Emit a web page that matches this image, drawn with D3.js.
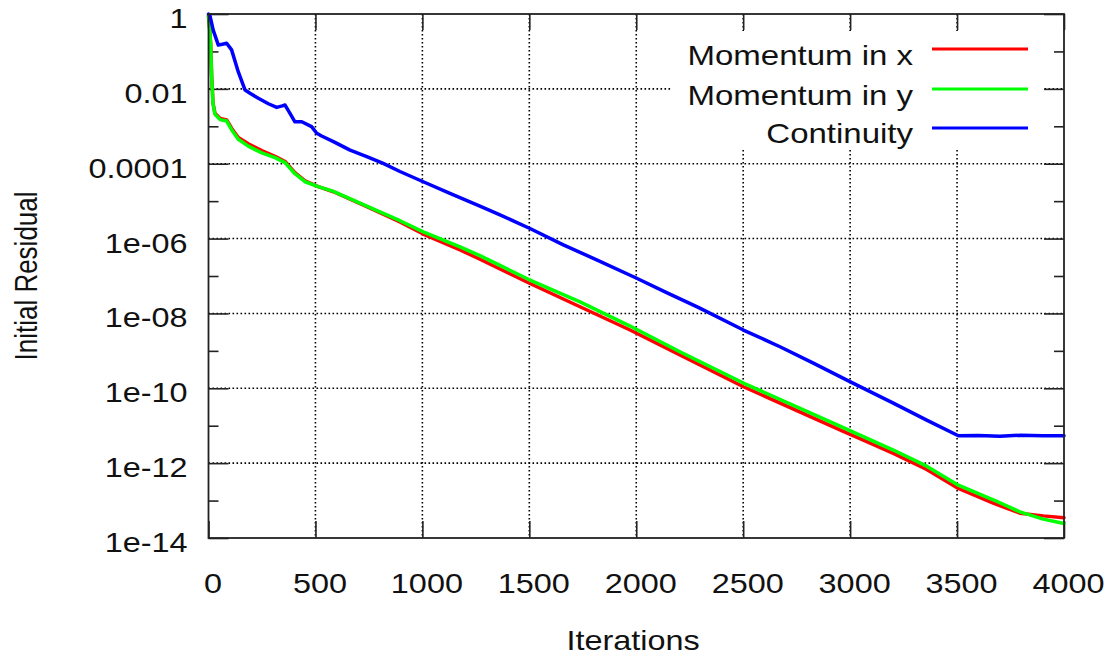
<!DOCTYPE html>
<html>
<head>
<meta charset="utf-8">
<script src="https://cdn.jsdelivr.net/npm/d3@7"></script>
<style>
  html, body { margin: 0; padding: 0; background: #fff; }
  svg { display: block; }
  text { font-family: "Liberation Sans", Arial, Helvetica, sans-serif; fill: #111; }
</style>
</head>
<body>
<svg id="chart" width="1111" height="656"></svg>
<script>
// Solver residual history (iteration, initial residual)
const momentumXIter = [0, 5, 10, 15, 21, 30, 54, 85, 108, 139, 186, 249, 311, 358, 404, 451, 513, 584, 740, 895, 1004, 1176, 1269, 1503, 1737, 1971, 2204, 2501, 2968, 3046, 3202, 3358, 3506, 3669, 3794, 3903, 4000];
const momentumXRes  = [0.9, 0.45, 0.166, 0.021, 4.2e-3, 2.24e-3, 1.62e-3, 1.48e-3, 8.9e-4, 5.0e-4, 3.4e-4, 2.24e-4, 1.58e-4, 1.15e-4, 5.8e-5, 3.5e-5, 2.45e-5, 1.78e-5, 7.1e-6, 2.8e-6, 1.32e-6, 5.0e-7, 2.8e-7, 6.3e-8, 1.51e-8, 3.6e-9, 7.8e-10, 1.10e-10, 7.1e-12, 4.5e-12, 1.82e-12, 6.8e-13, 2.1e-13, 8.5e-14, 4.6e-14, 3.9e-14, 3.5e-14];

const momentumYIter = [0, 5, 10, 15, 21, 30, 54, 85, 108, 139, 186, 249, 311, 358, 404, 451, 513, 584, 740, 895, 1004, 1176, 1269, 1503, 1737, 1971, 2204, 2501, 2968, 3046, 3202, 3358, 3506, 3669, 3794, 3903, 4000];
const momentumYRes  = [0.9, 0.42, 0.15, 0.019, 4.0e-3, 2.1e-3, 1.51e-3, 1.38e-3, 8.1e-4, 4.5e-4, 2.95e-4, 1.95e-4, 1.45e-4, 1.07e-4, 5.4e-5, 3.3e-5, 2.45e-5, 1.82e-5, 7.4e-6, 3.0e-6, 1.51e-6, 6.0e-7, 3.5e-7, 7.8e-8, 2.04e-8, 4.6e-9, 9.5e-10, 1.38e-10, 8.9e-12, 5.6e-12, 2.24e-12, 8.3e-13, 2.57e-13, 1.05e-13, 5.0e-14, 3.2e-14, 2.45e-14];

const continuityIter = [0, 7, 22, 46, 65, 85, 108, 139, 171, 194, 233, 280, 319, 345, 358, 381, 404, 436, 482, 506, 529, 584, 662, 740, 817, 895, 1004, 1129, 1269, 1355, 1503, 1659, 1815, 2002, 2142, 2290, 2501, 2672, 2828, 2999, 3202, 3358, 3506, 3600, 3700, 3800, 3900, 4000];
const continuityRes  = [1.0, 0.89, 0.37, 0.148, 0.155, 0.166, 0.110, 0.0288, 9.3e-3, 7.6e-3, 5.6e-3, 4.0e-3, 3.2e-3, 3.5e-3, 3.7e-3, 2.2e-3, 1.32e-3, 1.32e-3, 9.8e-4, 6.5e-4, 5.5e-4, 3.9e-4, 2.3e-4, 1.55e-4, 1.02e-4, 6.2e-5, 3.3e-5, 1.62e-5, 7.4e-6, 4.5e-6, 1.86e-6, 6.8e-7, 2.7e-7, 8.7e-8, 3.6e-8, 1.45e-8, 3.6e-9, 1.29e-9, 4.7e-10, 1.51e-10, 4.0e-11, 1.41e-11, 5.4e-12, 5.5e-12, 5.2e-12, 5.6e-12, 5.4e-12, 5.4e-12];

const seriesNames  = ["Momentum in x", "Momentum in y", "Continuity"];
const seriesColors = ["#ff0000", "#00ff00", "#0000ff"];

const xTickValues = [0, 500, 1000, 1500, 2000, 2500, 3000, 3500, 4000];
const yMajorValues = [1, 1e-2, 1e-4, 1e-6, 1e-8, 1e-10, 1e-12, 1e-14];
const yMajorLabels = ["1", "0.01", "0.0001", "1e-06", "1e-08", "1e-10", "1e-12", "1e-14"];
const yMinorValues = [1e-1, 1e-3, 1e-5, 1e-7, 1e-9, 1e-11, 1e-13];

const svg = d3.select("#chart");
const L = 208.5, R = 1064, T = 14, B = 538;
const SX = 1.2; // horizontal glyph stretch

const x = d3.scaleLinear().domain([0, 4000]).range([L, R]);
const y = d3.scaleLog().domain([1e-14, 1]).range([B, T]);

// grid
const grid = svg.append("g").attr("stroke", "#000").attr("stroke-width", 1.6)
  .attr("stroke-dasharray", "1.6 2.4").attr("fill", "none");
grid.selectAll("line.gx").data(xTickValues.slice(1, -1)).join("line")
  .attr("x1", d => x(d)).attr("x2", d => x(d)).attr("y1", T).attr("y2", B);
grid.selectAll("line.gy").data(yMajorValues.slice(1, -1)).join("line")
  .attr("x1", L).attr("x2", R).attr("y1", d => y(d)).attr("y2", d => y(d));

// key area is kept clear of grid
svg.append("rect").attr("x", 672).attr("y", 31).attr("width", 372).attr("height", 119).attr("fill", "#fff");

// axes (ticks point inward on all four sides)
function styleAxis(g) {
  g.select(".domain").remove();
  g.selectAll(".tick line").attr("stroke", "#222").attr("stroke-width", 1.6);
}
const xb = svg.append("g").attr("transform", `translate(0,${B})`)
  .call(d3.axisBottom(x).tickValues(xTickValues).tickFormat(d3.format("d")).tickSize(-17));
styleAxis(xb);
xb.selectAll(".tick text").attr("y", 0).attr("dy", null)
  .attr("font-size", 27).attr("fill", "#111")
  .attr("transform", `translate(4,55) scale(${SX},1)`);

const xt = svg.append("g").attr("transform", `translate(0,${T})`)
  .call(d3.axisTop(x).tickValues(xTickValues).tickFormat("").tickSize(-16));
styleAxis(xt);

const yl = svg.append("g").attr("transform", `translate(${L},0)`)
  .call(d3.axisLeft(y).tickValues(yMajorValues).tickFormat((d, i) => yMajorLabels[i]).tickSize(-20));
styleAxis(yl);
yl.selectAll(".tick text").attr("x", 0).attr("dy", null)
  .attr("font-size", 27).attr("fill", "#111")
  .attr("transform", `translate(-21,13.5) scale(${SX},1)`);

const ylm = svg.append("g").attr("transform", `translate(${L},0)`)
  .call(d3.axisLeft(y).tickValues(yMinorValues).tickFormat("").tickSize(-10));
styleAxis(ylm);

const yr = svg.append("g").attr("transform", `translate(${R},0)`)
  .call(d3.axisRight(y).tickValues(yMajorValues).tickFormat("").tickSize(-20));
styleAxis(yr);
const yrm = svg.append("g").attr("transform", `translate(${R},0)`)
  .call(d3.axisRight(y).tickValues(yMinorValues).tickFormat("").tickSize(-10));
styleAxis(yrm);

// series
const series = [
  { iter: momentumXIter, res: momentumXRes },
  { iter: momentumYIter, res: momentumYRes },
  { iter: continuityIter, res: continuityRes }
];
const line = d3.line().x(d => x(d[0])).y(d => y(d[1]));
series.forEach((s, i) => {
  const pts = s.iter.map((it, k) => [it, s.res[k]]);
  svg.append("path").datum(pts)
    .attr("d", line)
    .attr("fill", "none")
    .attr("stroke", seriesColors[i])
    .attr("stroke-width", 3.5)
    .attr("stroke-linejoin", "round")
    .attr("stroke-linecap", "round");
});

// border
svg.append("rect").attr("x", L).attr("y", T).attr("width", R - L).attr("height", B - T)
  .attr("fill", "none").attr("stroke", "#222").attr("stroke-width", 1.8);

// key
const keyLineY = [49, 89, 128];
const keyTextY = [65, 105, 143];
seriesNames.forEach((name, i) => {
  svg.append("text").attr("text-anchor", "end").attr("font-size", 27.5)
    .attr("transform", `translate(913,${keyTextY[i]}) scale(${SX},1)`)
    .text(name);
  svg.append("line").attr("x1", 932).attr("x2", 1028)
    .attr("y1", keyLineY[i]).attr("y2", keyLineY[i])
    .attr("stroke", seriesColors[i]).attr("stroke-width", 3);
});

// axis titles
svg.append("text").attr("text-anchor", "middle").attr("font-size", 27)
  .attr("transform", `translate(633,650) scale(${SX},1)`)
  .text("Iterations");
svg.append("text").attr("text-anchor", "middle").attr("font-size", 26)
  .attr("transform", `translate(37,276) scale(${SX},1) rotate(-90)`)
  .text("Initial Residual");
</script>
</body>
</html>
